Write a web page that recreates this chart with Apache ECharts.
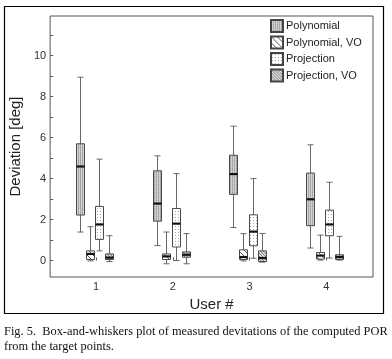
<!DOCTYPE html>
<html>
<head>
<meta charset="utf-8">
<script src="https://cdn.jsdelivr.net/npm/echarts@6.0.0/dist/echarts.min.js"></script>
<style>
  html, body { margin: 0; padding: 0; background: #fff; }
  #chart { width: 392px; height: 359px; }
</style>
</head>
<body>
<div id="chart"></div>
<script>
// users on the x axis
const users = [1, 2, 3, 4]
const yTicks = [0, 1, 2, 3, 4, 5, 6, 7, 8, 9, 10, 11]
const yLabels = [0, 2, 4, 6, 8, 10]

// per user: [lower whisker, q1, median, q3, upper whisker]
const polynomial = [
  [1.39, 2.22, 4.59, 5.70, 8.95],
  [0.73, 1.92, 2.78, 4.38, 5.11],
  [1.61, 3.23, 4.22, 5.14, 6.56],
  [0.61, 1.70, 2.99, 4.27, 5.65]
]
const polynomialVO = [
  [-0.02, 0.05, 0.32, 0.47, 1.65],
  [-0.16, 0.05, 0.20, 0.32, 1.39],
  [-0.02, 0.05, 0.17, 0.52, 1.31],
  [0.02, 0.07, 0.24, 0.39, 1.24]
]
const projection = [
  [0.47, 1.03, 1.76, 2.64, 4.95],
  [0.00, 0.66, 1.80, 2.54, 4.24],
  [0.11, 0.72, 1.41, 2.23, 4.00],
  [0.12, 1.21, 1.76, 2.46, 3.82]
]
const projectionVO = [
  [-0.05, 0.05, 0.14, 0.32, 1.21],
  [-0.16, 0.16, 0.28, 0.42, 1.31],
  [-0.08, -0.05, 0.12, 0.47, 1.32],
  [0.02, 0.05, 0.17, 0.28, 1.18]
]

const methodNames = ['Polynomial', 'Polynomial, VO', 'Projection', 'Projection, VO']
const methodData = [polynomial, polynomialVO, projection, projectionVO]

// box position inside each user group (x units) and box width
const SLOT_OFFSET = [-0.211, -0.083, 0.041, 0.168]
const BOX_WIDTH = 0.103

// small pixel tiles used as hatch fills
function makePattern(size, bg, pixels) {
  const c = document.createElement('canvas')
  c.width = size
  c.height = size
  const ctx = c.getContext('2d')
  ctx.fillStyle = bg
  ctx.fillRect(0, 0, size, size)
  pixels.forEach(([x, y, color]) => {
    ctx.fillStyle = color
    ctx.fillRect(x, y, 1, 1)
  })
  return { image: c, repeat: 'repeat' }
}

const patterns = [
  makePattern(2, '#d2d2d2', [[0, 0, '#9a9a9a'], [0, 1, '#b2b2b2']]),
  makePattern(6, '#ffffff', [[0, 0, '#555'], [1, 1, '#555'], [2, 2, '#555'], [3, 3, '#555'], [4, 4, '#555'], [5, 5, '#555']]),
  makePattern(3, '#ffffff', [[1, 1, '#a8a8a8']]),
  makePattern(3, '#dedede', [[0, 0, '#7a7a7a'], [1, 1, '#7a7a7a'], [2, 2, '#7a7a7a']])
]

function boxRenderer(slot) {
  return function (params, api) {
    const x = api.value(0) + SLOT_OFFSET[slot]
    const cx = Math.round(api.coord([x, 0])[0]) + 0.5
    const yLow = api.coord([x, api.value(1)])[1]
    const yQ1 = api.coord([x, api.value(2)])[1]
    const yMed = api.coord([x, api.value(3)])[1]
    const yQ3 = api.coord([x, api.value(4)])[1]
    const yHigh = api.coord([x, api.value(5)])[1]
    const w = Math.round(api.size([BOX_WIDTH, 0])[0])
    const left = cx - w / 2
    const whisker = { stroke: '#666', lineWidth: 1 }
    return {
      type: 'group',
      children: [
        { type: 'line', shape: { x1: cx, y1: yHigh, x2: cx, y2: yQ3 }, style: whisker },
        { type: 'line', shape: { x1: cx, y1: yQ1, x2: cx, y2: yLow }, style: whisker },
        { type: 'line', shape: { x1: left + 1, y1: yHigh, x2: left + w - 1, y2: yHigh }, style: whisker },
        { type: 'line', shape: { x1: left + 1, y1: yLow, x2: left + w - 1, y2: yLow }, style: whisker },
        {
          type: 'rect',
          shape: { x: left, y: yQ3, width: w, height: yQ1 - yQ3 },
          style: { fill: patterns[slot], stroke: '#4a4a4a', lineWidth: 1 }
        },
        { type: 'line', shape: { x1: left, y1: yMed, x2: left + w, y2: yMed }, style: { stroke: '#111', lineWidth: 2.2 } }
      ]
    }
  }
}

const series = methodNames.map((name, slot) => ({
  name,
  type: 'custom',
  renderItem: boxRenderer(slot),
  itemStyle: { color: patterns[slot], borderColor: '#444', borderWidth: 1 },
  encode: { x: 0, y: [1, 2, 3, 4, 5] },
  data: users.map((u, i) => [u].concat(methodData[slot][i])),
  z: 2
}))

const chart = echarts.init(document.getElementById('chart'), null, { renderer: 'canvas' })

chart.setOption({
  animation: false,
  textStyle: { fontFamily: 'Liberation Sans, Arial, sans-serif' },
  grid: {
    left: 43, top: 16, width: 330, height: 261,
    show: true, borderColor: '#555', borderWidth: 1, backgroundColor: 'transparent'
  },
  legend: {
    orient: 'vertical',
    left: 270,
    top: 19,
    padding: 0,
    itemWidth: 12,
    itemHeight: 12,
    itemGap: 2.5,
    icon: 'rect',
    data: methodNames,
    textStyle: { fontSize: 11, color: '#222', padding: [0, 0, 0, -2] }
  },
  xAxis: {
    type: 'value',
    min: 0.4,
    max: 4.61,
    name: 'User #',
    nameLocation: 'middle',
    nameGap: 18,
    nameTextStyle: { fontSize: 15, color: '#222' },
    axisLine: { show: false },
    axisTick: { show: true, inside: true, length: 3, customValues: users, lineStyle: { color: '#555' } },
    axisLabel: { customValues: users, margin: 4, fontSize: 11, color: '#333' },
    splitLine: { show: false }
  },
  yAxis: {
    type: 'value',
    min: -0.806,
    max: 11.94,
    name: 'Deviation [deg]',
    nameLocation: 'middle',
    nameGap: 15,
    nameTextStyle: { fontSize: 15, color: '#222' },
    axisLine: { show: false },
    axisTick: { show: true, inside: true, length: 3, customValues: yTicks, lineStyle: { color: '#555' } },
    axisLabel: { customValues: yLabels, margin: 4, fontSize: 11, color: '#333' },
    splitLine: { show: false }
  },
  graphic: [
    {
      type: 'rect',
      shape: { x: 4.5, y: 6.5, width: 379, height: 307 },
      style: { fill: 'none', stroke: '#000', lineWidth: 1.2 },
      silent: true
    },
    {
      type: 'text',
      left: 4,
      top: 324,
      style: {
        text: 'Fig. 5.  Box-and-whiskers plot of measured devitations of the computed POR\nfrom the target points.',
        font: '12.4px "Liberation Serif", "Times New Roman", serif',
        fill: '#111',
        lineHeight: 15
      }
    }
  ],
  series
})
</script>
</body>
</html>
